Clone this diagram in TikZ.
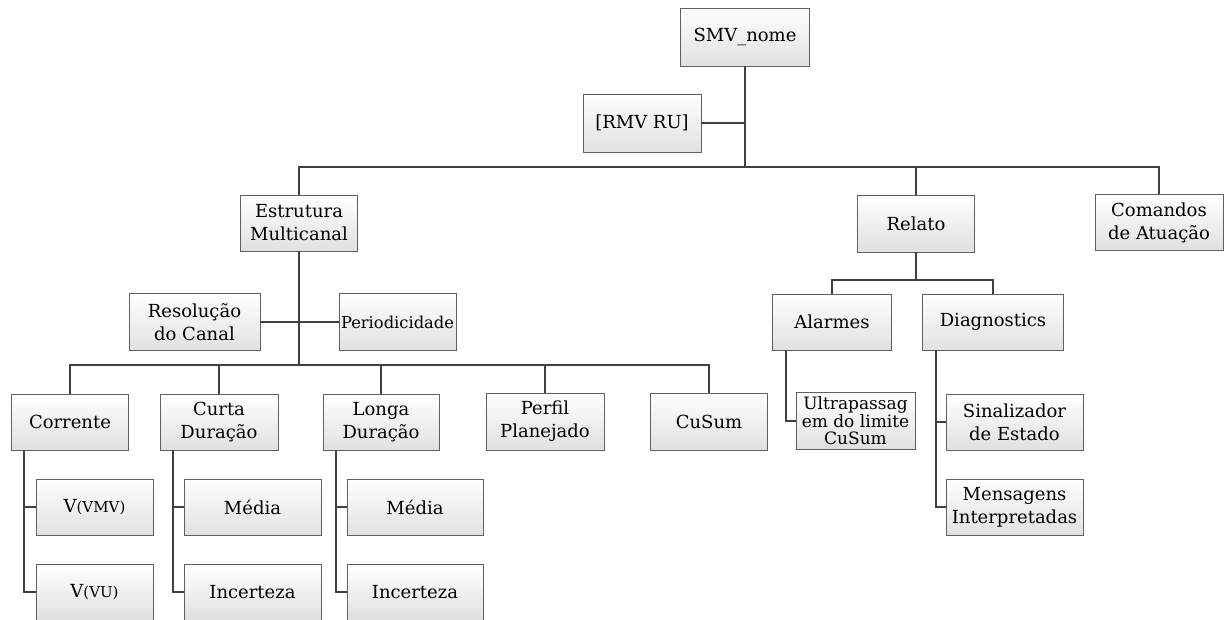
\documentclass[tikz,border=0pt]{standalone}
\usepackage{fontspec}
\setmainfont{DejaVu Serif}
\begin{document}
\begin{tikzpicture}[x=1pt,y=-1pt,
  bx/.style={draw=gray!75!black,line width=0.9pt,top color=white,bottom color=gray!24,
    inner sep=0pt,align=center,font=\fontsize{18}{23}\selectfont},
  con/.style={draw=black!75,line width=2pt}]
\clip (0,0) rectangle (1230,619);
\fill[white] (0,0) rectangle (1230,619);
% nodes
\node[bx,minimum width=129pt,minimum height=58pt] (smv) at (745,37) {SMV\_nome};
\node[bx,minimum width=118pt,minimum height=58pt] (rmv) at (642,123) {[RMV RU]};
\node[bx,minimum width=117pt,minimum height=56pt] (estr) at (299,223) {Estrutura\\Multicanal};
\node[bx,minimum width=117pt,minimum height=57pt] (rel) at (916,223.5) {Relato};
\node[bx,minimum width=128pt,minimum height=56pt] (com) at (1159,222.5) {Comandos\\de Atuação};
\node[bx,minimum width=131pt,minimum height=57pt] (res) at (194.5,322) {Resolução\\do Canal};
\node[bx,minimum width=117pt,minimum height=57pt,font=\fontsize{16.3}{20}\selectfont] (per) at (397.5,322) {Periodicidade};
\node[bx,minimum width=119pt,minimum height=56pt] (ala) at (832,322) {Alarmes};
\node[bx,minimum width=141pt,minimum height=56pt] (dia) at (993,322) {Diagnostics};
\node[bx,minimum width=117pt,minimum height=56pt] (cor) at (70,422) {Corrente};
\node[bx,minimum width=118pt,minimum height=56pt] (cur) at (219,422) {Curta\\Duração};
\node[bx,minimum width=116pt,minimum height=56pt] (lon) at (381,422) {Longa\\Duração};
\node[bx,minimum width=118pt,minimum height=57pt] (perf) at (545,421.5) {Perfil\\Planejado};
\node[bx,minimum width=117pt,minimum height=57pt] (cus) at (709,421.5) {CuSum};
\node[bx,minimum width=119pt,minimum height=57pt,font=\fontsize{17}{17.5}\selectfont] (ult) at (855.5,421) {Ultrapassag\\em do limite\\CuSum};
\node[bx,minimum width=137pt,minimum height=56pt] (sin) at (1014.5,422) {Sinalizador\\de Estado};
\node[bx,minimum width=137pt,minimum height=56pt] (men) at (1014.5,507) {Mensagens\\Interpretadas};
\node[bx,minimum width=117pt,minimum height=56pt] (vmv) at (94.5,507) {V{\fontsize{15}{18}\selectfont(VMV)}};
\node[bx,minimum width=117pt,minimum height=56pt] (vu) at (94.5,592) {V{\fontsize{15}{18}\selectfont(VU)}};
\node[bx,minimum width=137pt,minimum height=56pt] (med1) at (252.5,507) {Média};
\node[bx,minimum width=137pt,minimum height=56pt] (inc1) at (252.5,592) {Incerteza};
\node[bx,minimum width=136pt,minimum height=56pt] (med2) at (415,507) {Média};
\node[bx,minimum width=136pt,minimum height=56pt] (inc2) at (415,592) {Incerteza};
% bus coordinates
\coordinate (b1) at (745,167);
\coordinate (b2) at (299,365);
\coordinate (b3) at (916,280);
% top level
\draw[con] (smv.south) -- (b1);
\draw[con] (rmv.east) -- (rmv.east -| b1);
\draw[con] (estr.north) |- (b1) -| (com.north);
\draw[con] (rel.north) -- (rel.north |- b1);
% estrutura
\draw[con] (estr.south) -- (b2);
\draw[con] (res.east) -- (res.east -| b2);
\draw[con] (per.west) -- (per.west -| b2);
\draw[con] (cor.north) |- (b2) -| (cus.north);
\draw[con] (cur.north) -- (cur.north |- b2);
\draw[con] (lon.north) -- (lon.north |- b2);
\draw[con] (perf.north) -- (perf.north |- b2);
% relato
\draw[con] (rel.south) -- (b3);
\draw[con] (ala.north) |- (b3) -| (dia.north);
% children
\draw[con] ([xshift=12.5pt]cor.south west) |- (vmv.west);
\draw[con] ([xshift=12.5pt]cor.south west) |- (vu.west);
\draw[con] ([xshift=13pt]cur.south west) |- (med1.west);
\draw[con] ([xshift=13pt]cur.south west) |- (inc1.west);
\draw[con] ([xshift=13pt]lon.south west) |- (med2.west);
\draw[con] ([xshift=13pt]lon.south west) |- (inc2.west);
\draw[con] ([xshift=13.5pt]ala.south west) |- (ult.west);
\draw[con] ([xshift=13.5pt]dia.south west) |- (sin.west);
\draw[con] ([xshift=13.5pt]dia.south west) |- (men.west);
\end{tikzpicture}
\end{document}
